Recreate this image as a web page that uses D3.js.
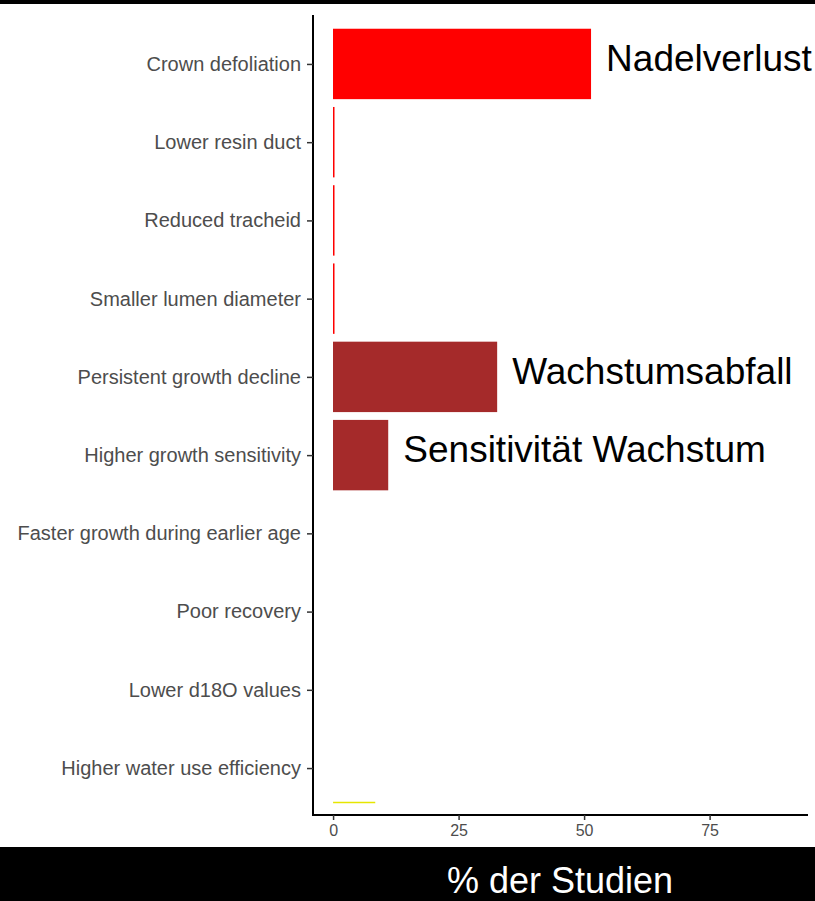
<!DOCTYPE html>
<html>
<head>
<meta charset="utf-8">
<script src="https://cdn.jsdelivr.net/npm/d3@7"></script>
<style>
  html, body { margin: 0; padding: 0; background: #fff; }
  svg { display: block; }
</style>
</head>
<body>
<svg id="chart" width="815" height="901"></svg>
<script>
// data
var categories = [
  "Crown defoliation",
  "Lower resin duct",
  "Reduced tracheid",
  "Smaller lumen diameter",
  "Persistent growth decline",
  "Higher growth sensitivity",
  "Faster growth during earlier age",
  "Poor recovery",
  "Lower d18O values",
  "Higher water use efficiency"
];
var percentValues = [51.4, 0.3, 0.3, 0.3, 32.7, 11, 0, 0, 0, 0];
var barColors = ["#ff0000", "#ff0000", "#ff0000", "#ff0000", "#a52a2a", "#a52a2a", "#a52a2a", "#a52a2a", "#a52a2a", "#a52a2a"];
var xTicks = [0, 25, 50, 75];
var annotations = [
  { category: "Crown defoliation", text: "Nadelverlust" },
  { category: "Persistent growth decline", text: "Wachstumsabfall" },
  { category: "Higher growth sensitivity", text: "Sensitivität Wachstum" }
];
var yellowMark = [8.4];
var axisTitle = "% der Studien";

var svg = d3.select("#chart");
var W = 815, H = 901;
var plotLeft = 313, plotRight = 808, plotTop = 17, plotBottom = 815;
var fontFam = "'Liberation Sans', Arial, sans-serif";

var x = d3.scaleLinear().domain([-4, 94.6]).range([plotLeft, plotRight]);
var y = d3.scalePoint().domain(categories).range([plotTop, plotBottom]).padding(0.6);
var step = y.step();
var barH = step * 0.9;

// black bands
svg.append("rect").attr("x", 0).attr("y", 0).attr("width", W).attr("height", 4).attr("fill", "#000");
svg.append("rect").attr("x", 0).attr("y", 847).attr("width", W).attr("height", H - 847).attr("fill", "#000");

// bars
svg.append("g").selectAll("rect")
  .data(categories)
  .enter().append("rect")
  .attr("x", Math.round(x(0)))
  .attr("y", function (d) { return y(d) - barH / 2; })
  .attr("width", function (d, i) { return Math.max(0, x(percentValues[i]) - x(0)); })
  .attr("height", barH)
  .attr("fill", function (d, i) { return barColors[i]; });

// thin yellow mark near the x axis
var lastY = y(categories[categories.length - 1]) + step * 0.44;
svg.append("g").selectAll("line")
  .data(yellowMark)
  .enter().append("line")
  .attr("x1", x(0)).attr("x2", function (d) { return x(d); })
  .attr("y1", lastY).attr("y2", lastY)
  .attr("stroke", "#e6e600").attr("stroke-width", 1.5);

// y axis
var yAxis = svg.append("g")
  .attr("transform", "translate(" + plotLeft + ",0)")
  .call(d3.axisLeft(y).tickSize(6).tickPadding(6));
yAxis.select(".domain").attr("d", "M0,15V" + plotBottom).attr("stroke", "#000").attr("stroke-width", 2);
yAxis.selectAll(".tick line").attr("stroke", "#333").attr("stroke-width", 1.5);
yAxis.selectAll(".tick text")
  .attr("fill", "#4d4d4d")
  .style("font-family", fontFam)
  .style("font-size", "20px");

// x axis
var xAxis = svg.append("g")
  .attr("transform", "translate(0," + plotBottom + ")")
  .call(d3.axisBottom(x).tickValues(xTicks).tickSize(5).tickPadding(5));
xAxis.select(".domain").attr("d", "M" + (plotLeft - 1) + ",0H" + plotRight).attr("stroke", "#000").attr("stroke-width", 2);
xAxis.selectAll(".tick line").attr("stroke", "#333").attr("stroke-width", 1.5);
xAxis.selectAll(".tick text")
  .attr("fill", "#4d4d4d")
  .style("font-family", fontFam)
  .style("font-size", "16px");

// annotations next to the bars
svg.append("g").selectAll("text")
  .data(annotations)
  .enter().append("text")
  .attr("x", function (d) { return x(percentValues[categories.indexOf(d.category)]) + 15; })
  .attr("y", function (d) { return y(d.category) + 7; })
  .attr("fill", "#000")
  .style("font-family", fontFam)
  .style("font-size", "37px")
  .text(function (d) { return d.text; });

// x axis title in the black band
svg.append("text")
  .attr("x", 560)
  .attr("y", 893)
  .attr("text-anchor", "middle")
  .attr("fill", "#fff")
  .style("font-family", fontFam)
  .style("font-size", "36px")
  .text(axisTitle);
</script>
</body>
</html>
